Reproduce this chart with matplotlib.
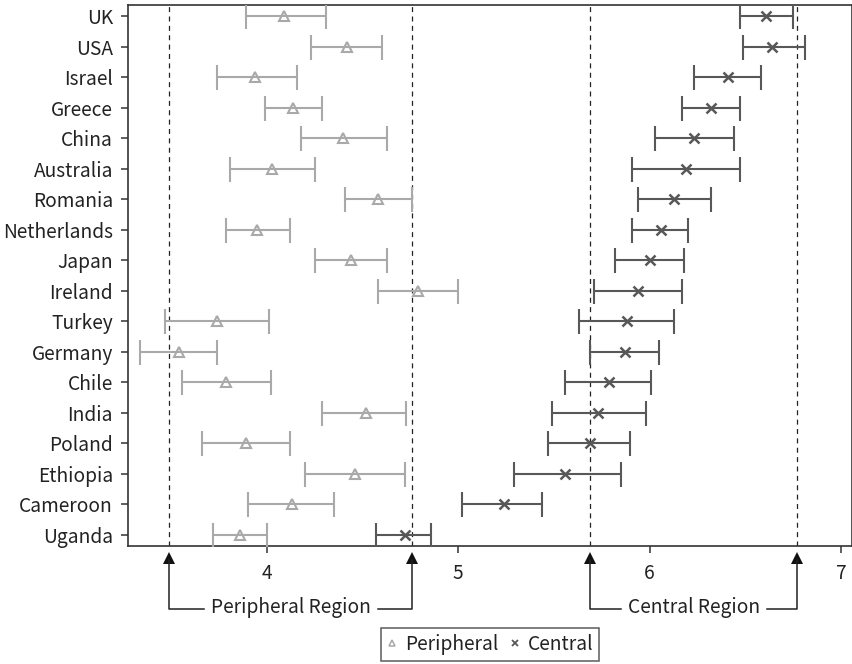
import matplotlib
matplotlib.use("Agg")
import matplotlib.pyplot as plt
from matplotlib.lines import Line2D
import numpy as np

plt.rcParams['font.family'] = ['Noto Sans CJK SC', 'DejaVu Sans']
plt.rcParams['font.size'] = 13.8

countries = ['UK', 'USA', 'Israel', 'Greece', 'China', 'Australia', 'Romania',
             'Netherlands', 'Japan', 'Ireland', 'Turkey', 'Germany', 'Chile',
             'India', 'Poland', 'Ethiopia', 'Cameroon', 'Uganda']

# peripheral: mean with lower / upper interval bounds
periph_mean = [4.09, 4.42, 3.94, 4.14, 4.40, 4.03, 4.58, 3.95, 4.44, 4.79,
               3.74, 3.54, 3.79, 4.52, 3.89, 4.46, 4.13, 3.86]
periph_lo = [3.89, 4.23, 3.74, 3.99, 4.18, 3.81, 4.41, 3.79, 4.25, 4.58,
             3.47, 3.34, 3.56, 4.29, 3.66, 4.20, 3.90, 3.72]
periph_hi = [4.31, 4.60, 4.16, 4.29, 4.63, 4.25, 4.76, 4.12, 4.63, 5.00,
             4.01, 3.74, 4.02, 4.73, 4.12, 4.72, 4.35, 4.00]

central_mean = [6.61, 6.64, 6.41, 6.32, 6.23, 6.19, 6.13, 6.06, 6.00, 5.94,
                5.88, 5.87, 5.79, 5.73, 5.69, 5.56, 5.24, 4.72]
central_lo = [6.47, 6.49, 6.23, 6.17, 6.03, 5.91, 5.94, 5.91, 5.82, 5.71,
              5.63, 5.69, 5.56, 5.49, 5.47, 5.29, 5.02, 4.57]
central_hi = [6.75, 6.81, 6.58, 6.47, 6.44, 6.47, 6.32, 6.20, 6.18, 6.17,
              6.13, 6.05, 6.01, 5.98, 5.90, 5.85, 5.44, 4.86]

regions = [('Peripheral Region', 3.49, 4.76), ('Central Region', 5.69, 6.77)]
xticks = [4, 5, 6, 7]

periph_color = '#a9a9a9'
central_color = '#585858'
ink = '#222222'

fig = plt.figure(figsize=(8.53, 6.64), dpi=100)
ax = fig.add_axes([0.1504, 0.1777, 0.8481, 0.8148])

y = np.arange(len(countries))[::-1]

def draw_series(mean, lo, hi, color, marker, ms, mew):
    mean = np.array(mean)
    err = np.vstack([mean - np.array(lo), np.array(hi) - mean])
    ax.errorbar(mean, y, xerr=err, fmt='none', ecolor=color, elinewidth=1.5,
                capsize=9, capthick=1.5, zorder=3)
    ax.plot(mean, y, linestyle='none', marker=marker, ms=ms, mfc='none',
            mec=color, mew=mew, zorder=4)

draw_series(periph_mean, periph_lo, periph_hi, periph_color, '^', 7.5, 1.5)
draw_series(central_mean, central_lo, central_hi, central_color, 'x', 7, 1.8)

for _, a, b in regions:
    for xv in (a, b):
        ax.axvline(xv, color=ink, lw=0.9, ls=(0, (4, 3.5)), zorder=2)

ax.set_xlim(3.277, 7.056)
ax.set_ylim(-0.36, len(countries) - 1 + 0.36)
ax.set_xticks(xticks)
ax.set_yticks(y)
ax.set_yticklabels(countries)
ax.tick_params(axis='both', direction='out', length=5, width=1.1, color='#333333',
               labelcolor=ink)
ax.tick_params(axis='x', pad=7)
ax.tick_params(axis='y', pad=6)
for s in ax.spines.values():
    s.set_color('#333333')
    s.set_linewidth(1.2)

# region brackets under the axis
trans = ax.get_xaxis_transform()
y_tip = -0.006
y_line = -0.117
texts = []
for name, a, b in regions:
    t = ax.text((a + b) / 2, y_line + 0.003, name, transform=trans, ha='center',
                va='center', color=ink)
    texts.append((t, a, b))
    ax.plot([a, b], [y_tip - 0.016, y_tip - 0.016], transform=trans, ls='none',
            marker='^', ms=8.5, color='#111111', mew=0, clip_on=False)

fig.canvas.draw()
renderer = fig.canvas.get_renderer()
inv = ax.transData.inverted()
gap = 7
for t, a, b in texts:
    bb = t.get_window_extent(renderer)
    x_left = inv.transform((bb.x0 - gap, 0))[0]
    x_right = inv.transform((bb.x1 + gap, 0))[0]
    ax.plot([a, a, x_left], [y_tip - 0.02, y_line, y_line], transform=trans,
            color=ink, lw=1.1, clip_on=False)
    ax.plot([x_right, b, b], [y_line, y_line, y_tip - 0.02], transform=trans,
            color=ink, lw=1.1, clip_on=False)

handles = [Line2D([], [], ls='none', marker='^', ms=5, mfc='none', mec=periph_color, mew=1.1),
           Line2D([], [], ls='none', marker='x', ms=5, mec=central_color, mew=1.3)]
leg = ax.legend(handles, ['Peripheral', 'Central'], loc='center',
                bbox_to_anchor=(0.5, -0.182), ncol=2, frameon=True, fancybox=False,
                handlelength=0.6, handletextpad=0.35, columnspacing=0.6,
                borderpad=0.3, borderaxespad=0)
leg.get_frame().set_edgecolor('#333333')
leg.get_frame().set_linewidth(1.1)
for txt in leg.get_texts():
    txt.set_color(ink)

fig.savefig('out.png', dpi=100)
